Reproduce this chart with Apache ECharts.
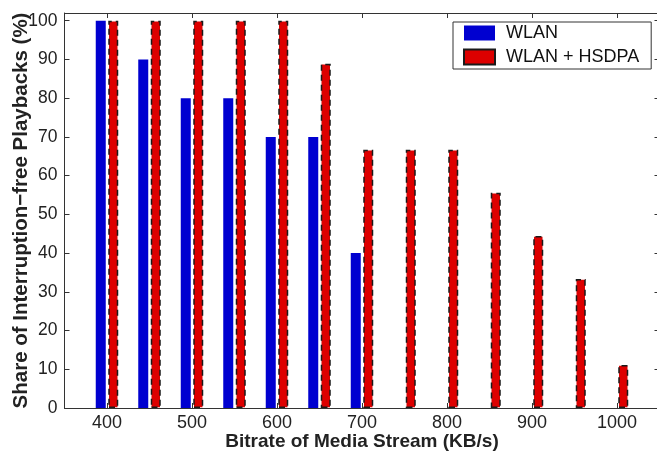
<!DOCTYPE html>
<html>
<head>
<meta charset="utf-8">
<script src="https://cdn.jsdelivr.net/npm/echarts@6/dist/echarts.min.js"></script>
<style>
  html, body { margin: 0; padding: 0; background: #fff; }
  #chart { width: 657px; height: 454px; }
</style>
</head>
<body>
<div id="chart"></div>
<script>
// Bitrates of the media stream (KB/s)
const bitrates = [400, 450, 500, 550, 600, 650, 700, 750, 800, 850, 900, 950, 1000];
// Share of interruption-free playbacks (%)
const wlan = [100, 90, 80, 80, 70, 70, 40, 0, 0, 0, 0, 0, 0];
const wlanHsdpa = [100, 100, 100, 100, 100, 88.9, 66.7, 66.7, 66.7, 55.6, 44.4, 33.3, 11.1];
// Tick labels
const xTicks = [400, 500, 600, 700, 800, 900, 1000];
const yTicks = [0, 10, 20, 30, 40, 50, 60, 70, 80, 90, 100];

const font = 'Liberation Sans, Arial, Helvetica, sans-serif';
const axisColor = '#333';

const chart = echarts.init(document.getElementById('chart'), null, { renderer: 'canvas' });

const pairs = (ys) => bitrates.map((x, i) => [x, ys[i]]);

const frameX = (position) => ({
  type: 'value', position, min: 350, max: 1050,
  axisLine: { show: true, onZero: false, lineStyle: { color: axisColor, width: 1 } },
  axisTick: { show: true, inside: true, length: 5, customValues: xTicks, lineStyle: { color: axisColor } },
  axisLabel: position === 'bottom'
    ? { show: true, customValues: xTicks, formatter: (v) => String(v), color: '#222', fontFamily: font, fontSize: 18, margin: 6 }
    : { show: false },
  splitLine: { show: false }
});

const frameY = (position) => ({
  type: 'value', position, min: 0, max: 102,
  axisLine: { show: true, onZero: false, lineStyle: { color: axisColor, width: 1 } },
  axisTick: { show: true, inside: true, length: 5, customValues: yTicks, lineStyle: { color: axisColor } },
  axisLabel: position === 'left'
    ? { show: true, customValues: yTicks, formatter: (v) => String(v), color: '#222', fontFamily: font, fontSize: 17.5, margin: 7 }
    : { show: false },
  splitLine: { show: false }
});

const xBottom = frameX('bottom');
xBottom.name = 'Bitrate of Media Stream (KB/s)';
xBottom.nameLocation = 'middle';
xBottom.nameGap = 24;
xBottom.nameMoveOverlap = false;
xBottom.nameTextStyle = { fontFamily: font, fontSize: 19, fontWeight: 'bold', color: '#222' };

const yLeft = frameY('left');
yLeft.name = 'Share of Interruption\u2212free Playbacks (%)';
yLeft.nameLocation = 'middle';
yLeft.nameGap = 33;
yLeft.nameMoveOverlap = false;
yLeft.nameTextStyle = { fontFamily: font, fontSize: 20.5, fontWeight: 'bold', color: '#222' };

chart.setOption({
  animation: false,
  backgroundColor: '#fff',
  grid: { left: 64.5, right: -2.5, top: 13, bottom: 46, outerBoundsMode: 'none', containLabel: false },
  legend: {
    orient: 'vertical',
    left: 453, top: 22,
    backgroundColor: '#fff',
    borderColor: '#333', borderWidth: 1,
    padding: [2, 12, 3, 10],
    itemWidth: 31, itemHeight: 15, itemGap: 6,
    icon: 'rect',
    textStyle: { fontFamily: font, fontSize: 18, color: '#111', padding: [0, 0, 0, 6] },
    data: ['WLAN', 'WLAN + HSDPA']
  },
  xAxis: [xBottom, frameX('top')],
  yAxis: [yLeft, frameY('right')],
  series: [
    {
      name: 'WLAN', type: 'bar', xAxisIndex: 0, yAxisIndex: 0,
      barWidth: 10, barGap: '25%',
      itemStyle: { color: '#0000d0', borderWidth: 0 },
      data: pairs(wlan)
    },
    {
      name: 'WLAN + HSDPA', type: 'bar', xAxisIndex: 0, yAxisIndex: 0,
      barWidth: 10, barGap: '25%',
      itemStyle: { color: '#dd0000', borderColor: '#1a1a1a', borderWidth: 1.5, borderType: [6, 4] },
      data: pairs(wlanHsdpa)
    }
  ]
});
</script>
</body>
</html>
